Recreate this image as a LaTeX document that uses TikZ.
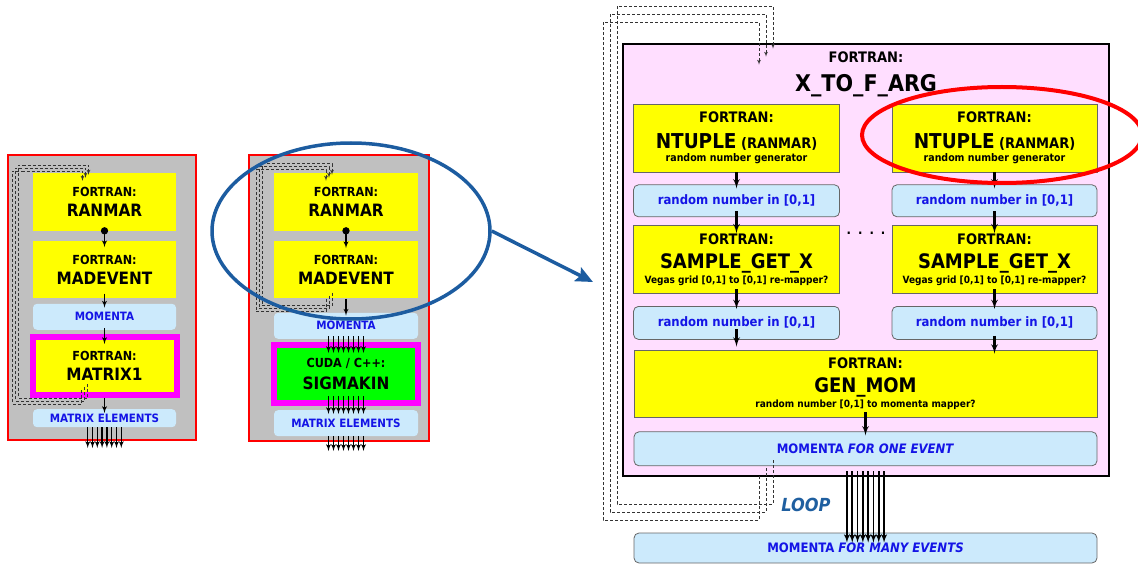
\documentclass[tikz,border=0pt]{standalone}
\usepackage{fontspec}
\setmainfont{DejaVu Sans Condensed}
\usetikzlibrary{shapes,arrows,arrows.meta,positioning}

\definecolor{panelgray}{RGB}{192,192,192}
\definecolor{boxyellow}{RGB}{255,255,0}
\definecolor{boxblue}{RGB}{204,234,252}
\definecolor{txtblue}{RGB}{20,20,230}
\definecolor{boxpink}{RGB}{255,222,255}
\definecolor{kernelgreen}{RGB}{0,255,0}
\definecolor{kernelframe}{RGB}{255,0,255}
\definecolor{zoomblue}{RGB}{28,92,160}
\definecolor{loopblue}{RGB}{31,95,160}
\definecolor{hilitered}{RGB}{255,0,0}

\newcommand{\fsz}[1]{\fontsize{#1}{#1}\selectfont}

\tikzstyle{panel} = [rectangle, draw=hilitered, line width=1.2pt, fill=panelgray, inner sep=0pt]
\tikzstyle{fbox} = [rectangle, fill=boxyellow, minimum width=143pt, minimum height=57pt,
    align=center, inner sep=0pt, font=\fsz{12.5}\bfseries]
\tikzstyle{mbox} = [rectangle, fill=boxblue, rounded corners=4pt, minimum width=143pt,
    minimum height=26pt, text=txtblue, inner sep=0pt, font=\fsz{11.5}\bfseries]
\tikzstyle{kbox} = [fbox, draw=kernelframe, line width=6pt, minimum width=144pt, minimum height=58pt]
\tikzstyle{rbox} = [rectangle, draw=black!60, line width=0.8pt, fill=boxyellow, minimum width=206pt,
    minimum height=68pt, align=center, inner sep=0pt, font=\fsz{14.5}\bfseries]
\tikzstyle{nbox} = [rectangle, draw=black!60, line width=0.8pt, rounded corners=5pt, fill=boxblue,
    minimum width=206pt, minimum height=32pt, text=txtblue, inner sep=0pt, font=\fsz{13}\bfseries]
\tikzstyle{bigbox} = [rectangle, draw=black, line width=2.5pt, fill=boxpink,
    minimum width=486pt, minimum height=432pt, inner sep=0pt]
\tikzstyle{line} = [draw, -latex', line width=1.3pt]
\tikzstyle{fatline} = [draw, -latex', line width=2.2pt]
\tikzstyle{dotline} = [draw, *-latex', line width=1.3pt]
\tikzstyle{loopline} = [draw, black!80, densely dashed, line width=0.7pt, -latex']
\tikzstyle{focus} = [ellipse, draw, inner sep=0pt]
\tikzstyle{zoomarrow} = [draw, zoomblue, line width=3.5pt, -{Stealth[length=17pt,width=15pt,inset=3pt]}]

\begin{document}
\begin{tikzpicture}[x=1pt, y=-1pt]
    \useasboundingbox (0,0) rectangle (1138,564);

    % fortran only
    \node [panel, minimum width=188pt, minimum height=285pt] (panelA) at (102,297.5) {};
    \node [fbox, minimum height=58pt] (ranmarA) at (104.5,202) {FORTRAN:\\[7pt]{\fsz{17}RANMAR}};
    \node [fbox, below=10pt of ranmarA] (madeventA) {FORTRAN:\\[7pt]{\fsz{17}MADEVENT}};
    \node [mbox, below=5pt of madeventA] (momentaA) {MOMENTA};
    \node [kbox, below=4pt of momentaA] (matrixA) {FORTRAN:\\[7pt]{\fsz{17}MATRIX1}};
    \node [mbox, below=11pt of matrixA, minimum height=18pt] (matrixelA) {MATRIX ELEMENTS};
    \coordinate (outA) at (104.5,448);

    \path [dotline, shorten <=-4pt, shorten >=-6pt] (ranmarA) -- (madeventA);
    \path [line, shorten <=-5pt, shorten >=-4pt] (madeventA) -- (momentaA);
    \path [line, shorten <=-2pt, shorten >=-10pt] (momentaA) -- (matrixA);
    \path [line, shorten >=-4pt] (matrixA) -- (matrixelA);
    \foreach \i in {-3.5,-2.5,...,3.5}
        \path [line] ([xshift=\i*4.8pt]matrixelA.south) -- ([xshift=\i*4.8pt]outA);
    \foreach \k in {0,1,2}
        \path [loopline] ([xshift=-17pt-\k*3pt, yshift=14pt-\k*3pt]matrixA.south) -- ++(0,14)
            -| ++(-69,-233) -| ([xshift=-16pt-\k*3pt, yshift=-2pt-\k*3pt]ranmarA.north);

    % cuda / c++ kernel
    \node [panel, minimum width=180pt, minimum height=286pt] (panelB) at (339,298) {};
    \node [fbox, minimum width=144pt, minimum height=58pt] (ranmarB) at (346,202) {FORTRAN:\\[7pt]{\fsz{17}RANMAR}};
    \node [fbox, minimum width=144pt, below=10pt of ranmarB] (madeventB) {FORTRAN:\\[7pt]{\fsz{17}MADEVENT}};
    \node [mbox, minimum width=144pt, below=14pt of madeventB] (momentaB) {MOMENTA};
    \node [kbox, fill=kernelgreen, below=3pt of momentaB] (sigmakin) {CUDA / C++:\\[7pt]{\fsz{17}SIGMAKIN}};
    \node [mbox, minimum width=144pt, below=4pt of sigmakin] (matrixelB) {MATRIX ELEMENTS};
    \coordinate (outB) at (346,451);

    \path [dotline, shorten <=-4pt, shorten >=-7pt] (ranmarB) -- (madeventB);
    \path [line, shorten >=-3pt] (madeventB) -- (momentaB);
    \foreach \i in {-3.5,-2.5,...,3.5} {
        \path [line, shorten <=-3pt, shorten >=-11pt] ([xshift=\i*5pt]momentaB.south) -- ([xshift=\i*5pt]sigmakin.north);
        \path [line, shorten <=-10pt, shorten >=-4pt] ([xshift=\i*5pt]sigmakin.south) -- ([xshift=\i*5pt]matrixelB.north);
        \path [line] ([xshift=\i*5pt]matrixelB.south) -- ([xshift=\i*5pt]outB);
    }
    \foreach \k in {0,1,2}
        \path [loopline] ([xshift=-14pt-\k*3pt, yshift=6pt-\k*3pt]madeventB.south) -- ++(0,13)
            -| ++(-70,-142) -| ([xshift=-14pt-\k*3pt, yshift=-2pt-\k*3pt]ranmarB.north);

    % x_to_f_arg
    \node [bigbox] (xtof) at (866,260) {};
    \node [font=\fsz{14.5}\bfseries, align=center, inner sep=0pt] (xtofname) at (866,74) {FORTRAN:\\[11pt]{\fsz{23}X\_TO\_F\_ARG}};

    \node [rbox] (ntupleL) at (736.5,138) {FORTRAN:\\[9pt]{\fsz{20.5}NTUPLE} (RANMAR)\\[-1pt]{\fsz{10.5}random number generator}};
    \node [nbox, below=12pt of ntupleL] (rndA1) {random number in [0,1]};
    \node [rbox, below=8pt of rndA1] (sampleL) {FORTRAN:\\[8pt]{\fsz{20}SAMPLE\_GET\_X}\\[0.5pt]{\fsz{10}Vegas grid [0,1] to [0,1] re-mapper?}};
    \node [nbox, below=12pt of sampleL, minimum height=33pt] (rndA2) {random number in [0,1]};

    \node [rbox, minimum width=205pt] (ntupleR) at (994.5,138) {FORTRAN:\\[9pt]{\fsz{20.5}NTUPLE} (RANMAR)\\[-1pt]{\fsz{10.5}random number generator}};
    \node [nbox, minimum width=205pt, below=12pt of ntupleR] (rndB1) {random number in [0,1]};
    \node [rbox, minimum width=205pt, below=8pt of rndB1] (sampleR) {FORTRAN:\\[8pt]{\fsz{20}SAMPLE\_GET\_X}\\[0.5pt]{\fsz{10}Vegas grid [0,1] to [0,1] re-mapper?}};
    \node [nbox, minimum width=205pt, below=12pt of sampleR, minimum height=33pt] (rndB2) {random number in [0,1]};

    \node [font=\fsz{13}\bfseries] (gapdots) at (866,233) {.\hspace{7pt}.\hspace{7pt}.\hspace{7pt}.};

    \node [rbox, minimum width=463pt, minimum height=67pt] (genmom) at (865.5,383.5) {FORTRAN:\\[8pt]{\fsz{20}GEN\_MOM}\\[0.5pt]{\fsz{10}random number [0,1] to momenta mapper?}};
    \node [nbox, minimum width=463pt, minimum height=34pt, below=14pt of genmom] (momone) {MOMENTA \textit{FOR ONE EVENT}};
    \node [nbox, minimum width=463pt, minimum height=30pt] (momall) at (865.5,548) {MOMENTA \textit{FOR MANY EVENTS}};
    \node [font=\fsz{18}\bfseries\itshape, text=loopblue] (looptag) at (806,505) {LOOP};

    \path [fatline, shorten >=-4pt] (ntupleL) -- (rndA1);
    \path [fatline, shorten <=-6pt, shorten >=-8pt] (rndA1) -- (sampleL);
    \path [fatline, shorten <=-5pt, shorten >=-3pt] (sampleL) -- (rndA2);
    \path [fatline, shorten <=-11pt, shorten >=3pt] (rndA2.south) -- (rndA2.south |- genmom.north);
    \path [fatline, shorten >=-4pt] (ntupleR) -- (rndB1);
    \path [fatline, shorten <=-6pt, shorten >=-8pt] (rndB1) -- (sampleR);
    \path [fatline, shorten <=-5pt, shorten >=-3pt] (sampleR) -- (rndB2);
    \path [fatline, shorten <=-4pt, shorten >=-4pt] (rndB2.south) -- (rndB2.south |- genmom.north);
    \path [fatline, shorten <=-5pt, shorten >=-4pt] (genmom) -- (momone);
    \foreach \i in {-3.5,-2.5,...,3.5}
        \path [fatline, line width=1.8pt, shorten <=5pt, shorten >=-10pt] ([xshift=\i*5.3pt]momone.south) -- ([xshift=\i*5.3pt]momall.north);
    \foreach \k in {0,1,2}
        \path [loopline] ([xshift=-92.5pt-\k*7pt, yshift=6pt-\k*8pt]momone.south) -- ++(0,44)
            -| ++(-156,-498) -| ([xshift=-93pt-\k*7pt, yshift=-6pt-\k*8pt]xtof.north);

    % zoom marks
    \node [focus, draw=zoomblue, line width=3.5pt, minimum width=278pt, minimum height=176pt] (zoomA) at (351,231) {};
    \coordinate (zoomtip) at (593,282);
    \path [zoomarrow] (zoomA.east) -- (zoomtip);
    \node [focus, draw=hilitered, line width=4pt, minimum width=280pt, minimum height=96pt] (hilite) at (1002,135) {};

\end{tikzpicture}
\end{document}
